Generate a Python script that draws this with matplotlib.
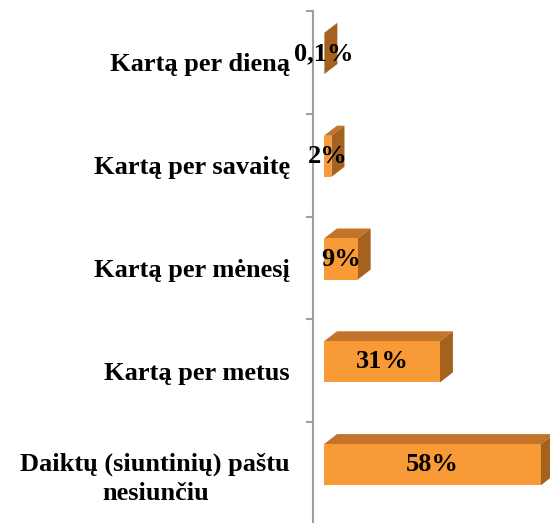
import matplotlib
matplotlib.use("Agg")
import matplotlib.pyplot as plt
from matplotlib.patches import Polygon

# data, top to bottom
categories = ["Kartą per dieną", "Kartą per savaitę", "Kartą per mėnesį",
              "Kartą per metus", "Daiktų (siuntinių) paštu\nnesiunčiu"]
values = [0.1, 2, 9, 31, 58]
value_labels = ["0,1%", "2%", "9%", "31%", "58%"]

front_col = "#F89A36"
top_col = "#C4732A"
side_col = "#A5621F"
axis_col = "#A0A0A0"

plt.rcParams["font.family"] = ["Liberation Serif", "DejaVu Serif"]

W, H = 550, 523
fig = plt.figure(figsize=(W / 100, H / 100), dpi=100)
ax_left = 313 / W
ax = fig.add_axes([ax_left, -2 / H, 1 - ax_left, (H - 11 + 2) / H])

px_per_unit = 3.74
x0 = -(324 - 313) / px_per_unit
x1 = x0 + (W - 313) / px_per_unit
ax.set_xlim(x0, x1)
ax.set_ylim(len(categories) - 0.5, -0.5)

# 3d look: depth offsets in data units
dx = 13 / px_per_unit
dy = 10 / 102.8
half_h = 0.2
shift = 0.087

for i, (v, lab) in enumerate(zip(values, value_labels)):
    c = i - shift
    top, bot = c - half_h, c + half_h
    ax.add_patch(Polygon([(0, top), (v, top), (v + dx, top - dy), (dx, top - dy)],
                         closed=True, fc=top_col, ec="none", zorder=2))
    ax.add_patch(Polygon([(v, top), (v + dx, top - dy), (v + dx, bot - dy), (v, bot)],
                         closed=True, fc=side_col, ec="none", zorder=2))
    ax.add_patch(Polygon([(0, top), (v, top), (v, bot), (0, bot)],
                         closed=True, fc=front_col, ec="none", zorder=3))
    ax.text(v / 2, c, lab, ha="center", va="center", fontsize=19,
            fontweight="bold", zorder=5)

ax.set_yticks(range(len(categories)))
ax.set_yticklabels(categories, fontsize=19, fontweight="bold",
                   multialignment="center", linespacing=1.3)
ax.tick_params(axis="y", which="major", length=0, pad=16.5)
ax.set_yticks([i - 0.5 for i in range(len(categories) + 1)], minor=True)
ax.tick_params(axis="y", which="minor", length=5, width=1.5, color=axis_col)
ax.set_xticks([])

for s in ["top", "right", "bottom"]:
    ax.spines[s].set_visible(False)
ax.spines["left"].set_color(axis_col)
ax.spines["left"].set_linewidth(1.5)
ax.patch.set_alpha(0)

fig.savefig("out.png", dpi=100)
